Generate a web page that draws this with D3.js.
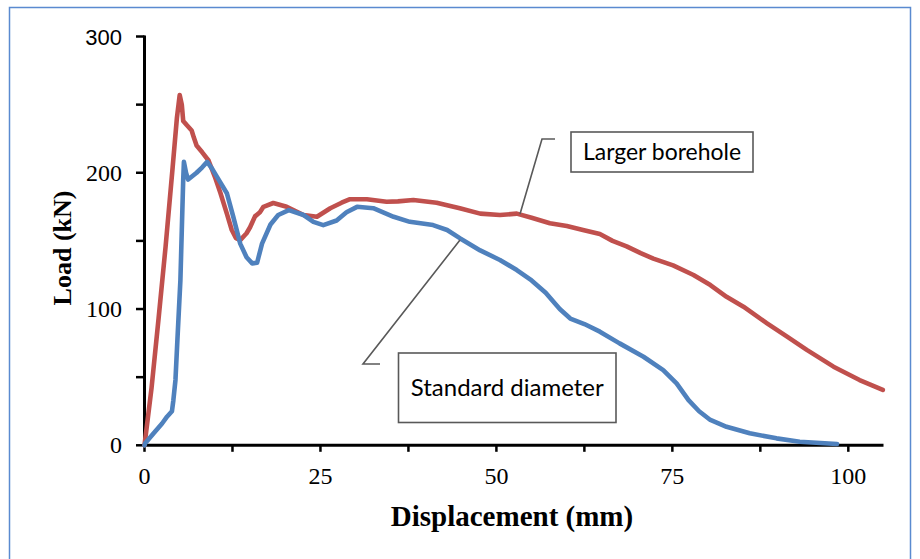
<!DOCTYPE html>
<html><head><meta charset="utf-8">
<script src="https://cdn.jsdelivr.net/npm/d3@7"></script>
<style>html,body{margin:0;padding:0;background:#fff;}svg{display:block;}</style>
</head><body>
<svg id="chart" width="920" height="559"></svg>
<script>
// ---- data ----
const largerX = [0,1.0,2.0,3.0,4.0,4.6,5.0,5.3,5.5,6.0,6.7,7.0,7.4,8.2,9.1,10.0,10.8,11.7,12.4,13.0,13.6,14.5,15.0,15.7,16.4,16.9,18.3,20.2,22.6,24.5,26.4,28.0,29.2,31.6,34.4,36.0,38.2,41.5,44.8,47.7,50.5,52.9,55.0,57.6,60.0,62.3,64.7,66.5,68.5,70.5,72.3,75.1,78.0,80.4,82.7,85.1,88.4,91.3,94.1,97.9,101.6,104.9];
const largerY = [0,42,93,146,204,240,257,250,238,235,231,226,220,215,209,197,185,170,158,152,150.6,155.6,160,168,171,175,177.8,175,169,167.7,174,178,180.6,180.6,178.7,179,180,178,174,170,169,170,167,163,161,158,155,150,146,141,137,132,125,117.6,109,101.7,89.7,79.7,70,57.7,47.9,40.6];
const standardX = [0,0.1,1.3,2.5,3.2,3.9,4.1,4.4,4.7,5.1,5.3,5.5,5.6,5.9,6.2,7.4,8.2,8.9,9.6,10.3,11.7,12.6,13.6,14.5,15.3,16.0,16.2,16.7,17.9,19.0,20.5,22.6,24.0,25.4,27.3,28.7,30.2,32.5,35.4,37.7,41.0,43.0,44.8,47.7,50.5,52.9,55.0,57.0,59.0,60.5,62.5,64.7,67.5,70.9,73.7,75.6,77.3,78.8,80.4,82.7,86.0,89.8,93.1,98.4];
const standardY = [0,1.5,8.8,16,21,25,33,48,80,121,158,195,208,200,195,200,204,208,203,197,185,168,148,138,133.5,134,138,148,162,169,172.6,169,164,161.6,165,171,175,174,167.7,164,161.6,158,152,143,136,128.6,121,112,100,93,89,83.4,74.8,65,55.2,45.5,33.2,25,18.6,13.6,8.8,5.1,2.6,1.0];
const seriesNames = ["Larger borehole","Standard diameter"];
const xTickValues = [0,25,50,75,100];
const xMinorTicks = [0,12.5,25,37.5,50,62.5,75,87.5,100];
const yTickValues = [0,100,200,300];
const yMinorTicks = [0,50,100,150,200,250,300];
const xTitle = "Displacement (mm)";
const yTitle = "Load (kN)";

// ---- layout ----
const svg = d3.select("#chart");
const x = d3.scaleLinear().domain([0,105]).range([144.5, 883.5]);
const y = d3.scaleLinear().domain([0,300]).range([445.3, 36.5]);

// outer border
svg.append("rect").attr("x",9.5).attr("y",7.5).attr("width",901).attr("height",570)
  .attr("fill","none").attr("stroke","#5a8ad0").attr("stroke-width",1.5);

// axes
const axisG = svg.append("g");
axisG.selectAll("line.xt").data(xMinorTicks).join("line")
  .attr("x1",d=>x(d)).attr("x2",d=>x(d)).attr("y1",y(0)).attr("y2",y(0)+6.5)
  .attr("stroke","#000").attr("stroke-width",2.5);
axisG.selectAll("line.yt").data(yMinorTicks).join("line")
  .attr("x1",x(0)-8.5).attr("x2",x(0)).attr("y1",d=>y(d)).attr("y2",d=>y(d))
  .attr("stroke","#000").attr("stroke-width",2.5);
axisG.append("line").attr("x1",x(0)).attr("x2",x(0)).attr("y1",y(300)-1).attr("y2",y(0)+1.5)
  .attr("stroke","#000").attr("stroke-width",3);
axisG.append("line").attr("x1",x(0)-1.5).attr("x2",x(105)).attr("y1",y(0)).attr("y2",y(0))
  .attr("stroke","#000").attr("stroke-width",3);

// tick labels
svg.selectAll("text.xl").data(xTickValues).join("text")
  .attr("x",d=>x(d)).attr("y",483.5).attr("text-anchor","middle")
  .attr("font-family","'Liberation Serif','Times New Roman',serif").attr("font-size",24)
  .attr("fill","#000").text(d=>d);
svg.selectAll("text.yl").data(yTickValues).join("text")
  .attr("x",122).attr("y",d=>y(d)+8).attr("text-anchor","end")
  .attr("font-family",d=> d===300 ? "'Liberation Sans',Arial,sans-serif" : "'Liberation Serif','Times New Roman',serif")
  .attr("font-size",d=> d===300 ? 22 : 24)
  .attr("fill","#000").text(d=>d);

// axis titles
svg.append("text").attr("x",512).attr("y",526).attr("text-anchor","middle")
  .attr("font-family","'Liberation Serif','Times New Roman',serif").attr("font-weight","bold")
  .attr("font-size",29).attr("fill","#000").text(xTitle);
svg.append("text").attr("transform","translate(71,248) rotate(-90)").attr("text-anchor","middle")
  .attr("font-family","'Liberation Serif','Times New Roman',serif").attr("font-weight","bold")
  .attr("font-size",26).attr("fill","#000").text(yTitle);

// curves
const line = d3.line().x(d=>x(d[0])).y(d=>y(d[1]));
const larger = largerX.map((v,i)=>[v,largerY[i]]);
const standard = standardX.map((v,i)=>[v,standardY[i]]);
svg.append("path").datum(larger).attr("d",line).attr("fill","none")
  .attr("stroke","#C0504D").attr("stroke-width",4.6).attr("stroke-linejoin","round").attr("stroke-linecap","round");
svg.append("path").datum(standard).attr("d",line).attr("fill","none")
  .attr("stroke","#4F81BD").attr("stroke-width",4.6).attr("stroke-linejoin","round").attr("stroke-linecap","round");

// callouts
function callout(pts, box, label, tw) {
  svg.append("polyline").attr("points", pts.map(p=>p.join(",")).join(" "))
    .attr("fill","none").attr("stroke","#595959").attr("stroke-width",1.6);
  svg.append("rect").attr("x",box[0]).attr("y",box[1]).attr("width",box[2]).attr("height",box[3])
    .attr("fill","#fff").attr("stroke","#595959").attr("stroke-width",1.6);
  svg.append("text").attr("x",box[0]+box[2]/2).attr("y",box[1]+box[3]/2+8)
    .attr("text-anchor","middle").attr("font-family","Lato,'Open Sans',sans-serif")
    .attr("font-size",23).attr("textLength",tw).attr("lengthAdjust","spacingAndGlyphs")
    .attr("fill","#000").text(label);
}
callout([[555,139],[542,139],[520,214]], [571,132,182,40], seriesNames[0], 158);
callout([[380,364],[363,364],[460,240]], [398.5,353,217.5,69.5], seriesNames[1], 193);
</script>
</body></html>
